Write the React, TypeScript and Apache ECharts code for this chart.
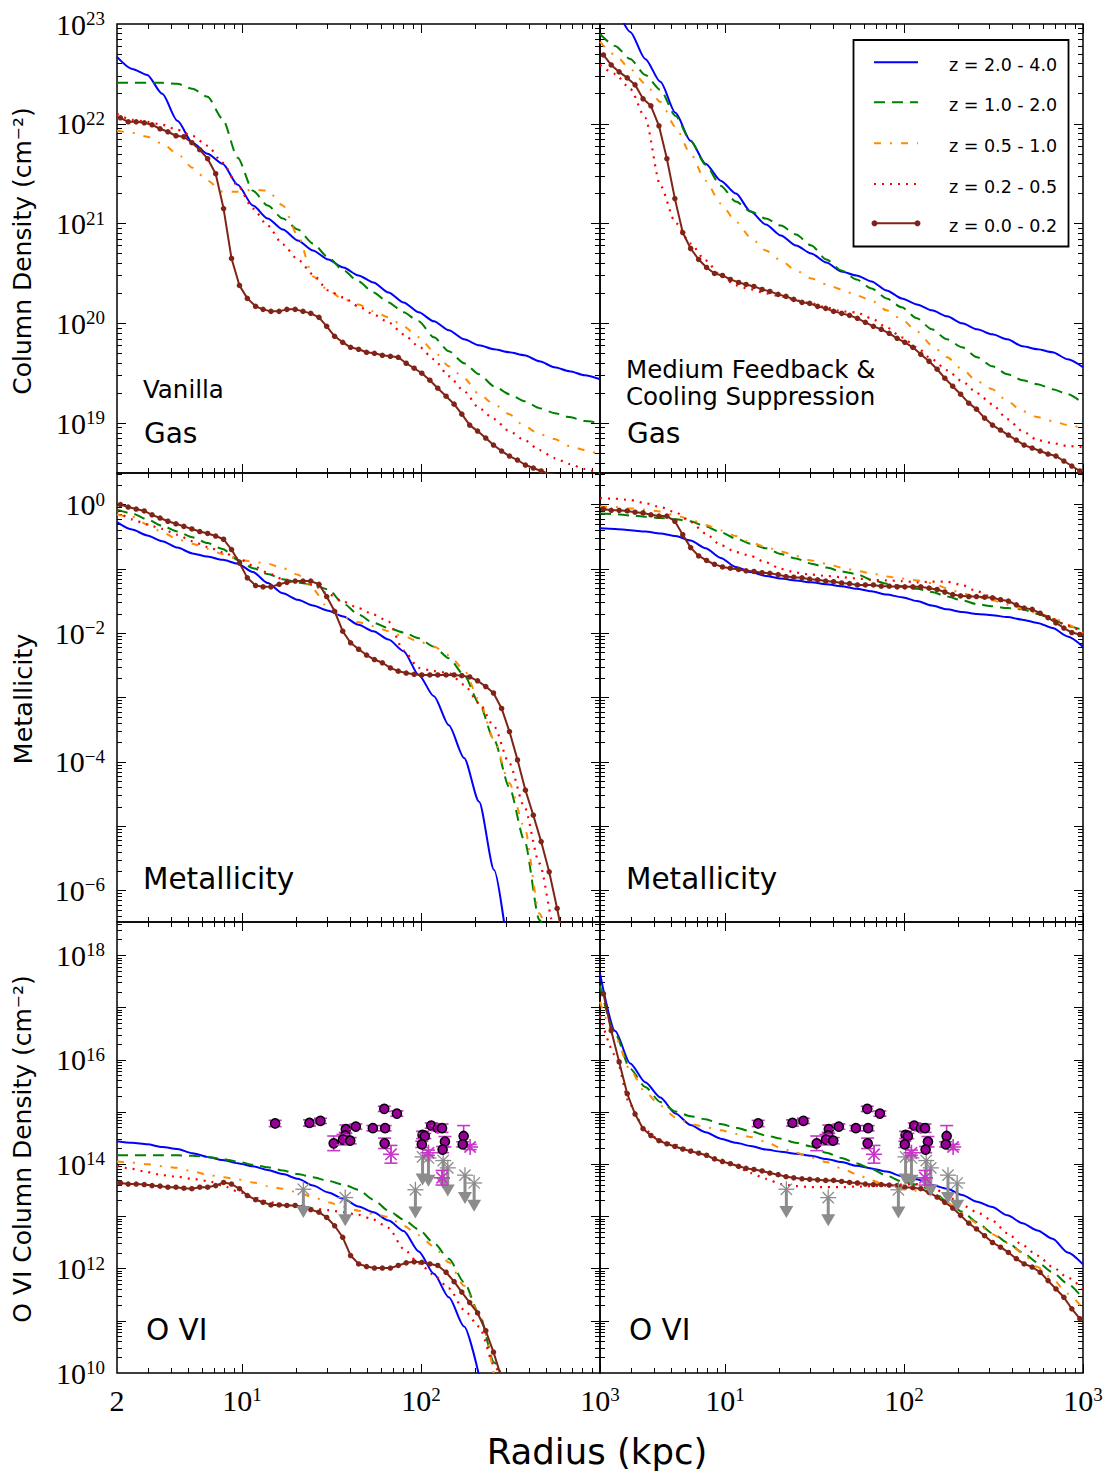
import React, { useEffect, useRef } from "react";
import * as echarts from "echarts";

// ---------------- DATA ----------------
// Radius sample points (kpc) for the un-marked curves
const radiusKpc = [2, 2.43, 2.95, 3.58, 4.35, 5.28, 6.41, 7.78, 9.45, 11.5, 13.9, 16.9, 20.5, 24.9, 30.3, 36.8, 44.7, 54.2, 65.8, 79.9, 97.1, 118, 143, 174, 211, 256, 311, 378, 459, 557, 676, 821, 1000];
// Radius bins (kpc) of the marked z = 0.0 - 0.2 curve
const brownRadiusKpc = [2.09, 2.31, 2.56, 2.84, 3.14, 3.48, 3.85, 4.27, 4.73, 5.24, 5.80, 6.42, 7.12, 7.88, 8.73, 9.67, 10.7, 11.9, 13.1, 14.5, 16.1, 17.8, 19.8, 21.9, 24.2, 26.9, 29.7, 32.9, 36.5, 40.4, 44.8, 49.6, 54.9, 60.8, 67.4, 74.6, 82.6, 91.5, 101, 112, 124, 138, 153, 169, 187, 207, 230, 254, 282, 312, 346, 383, 424, 469, 520, 576, 638, 706, 782, 866, 960];

const seriesNames = ["z = 2.0 - 4.0", "z = 1.0 - 2.0", "z = 0.5 - 1.0", "z = 0.2 - 0.5", "z = 0.0 - 0.2"];

// Gas column density, Vanilla (log10 cm^-2)
const gasVanZ24 = [22.67, 22.55, 22.49, 22.30, 22.03, 21.81, 21.70, 21.60, 21.39, 21.18, 21.05, 20.94, 20.83, 20.73, 20.64, 20.56, 20.48, 20.41, 20.31, 20.21, 20.11, 20.02, 19.93, 19.84, 19.78, 19.74, 19.71, 19.68, 19.62, 19.56, 19.52, 19.48, 19.44];
const gasVanZ12 = [22.41, 22.41, 22.41, 22.41, 22.40, 22.35, 22.27, 22.05, 21.66, 21.33, 21.18, 21.05, 20.94, 20.80, 20.66, 20.53, 20.42, 20.31, 20.21, 20.11, 20.02, 19.86, 19.72, 19.60, 19.49, 19.37, 19.29, 19.22, 19.15, 19.10, 19.06, 19.02, 19.00];
const gasVanZ051 = [21.93, 21.91, 21.87, 21.80, 21.70, 21.56, 21.43, 21.32, 21.32, 21.34, 21.33, 21.18, 20.88, 20.47, 20.33, 20.24, 20.19, 20.12, 20.06, 19.97, 19.86, 19.72, 19.57, 19.45, 19.29, 19.19, 19.09, 18.97, 18.89, 18.84, 18.77, 18.73, 18.68];
const gasVanZ0205 = [22.10, 22.04, 22.02, 21.99, 21.94, 21.88, 21.78, 21.61, 21.38, 21.15, 20.98, 20.79, 20.64, 20.49, 20.33, 20.26, 20.17, 20.09, 20.01, 19.89, 19.77, 19.64, 19.47, 19.32, 19.15, 19.04, 18.92, 18.83, 18.73, 18.65, 18.59, 18.54, 18.49];
const gasVanZ002 = [22.06, 22.02, 22.02, 22.01, 21.99, 21.95, 21.92, 21.88, 21.87, 21.81, 21.74, 21.65, 21.50, 21.15, 20.65, 20.38, 20.25, 20.17, 20.14, 20.12, 20.12, 20.14, 20.14, 20.12, 20.10, 20.06, 19.97, 19.87, 19.81, 19.76, 19.74, 19.71, 19.70, 19.68, 19.67, 19.66, 19.60, 19.55, 19.50, 19.43, 19.35, 19.27, 19.19, 19.09, 18.98, 18.92, 18.85, 18.78, 18.72, 18.67, 18.63, 18.58, 18.55, 18.52, 18.49, 18.48, 18.45, 18.42, 18.40, 18.37, 18.35];

// Gas column density, Medium Feedback & Cooling Suppression
const gasMedZ24 = [23.39, 23.14, 22.92, 22.65, 22.42, 22.11, 21.83, 21.60, 21.43, 21.30, 21.12, 20.99, 20.88, 20.78, 20.70, 20.61, 20.52, 20.48, 20.42, 20.33, 20.25, 20.19, 20.13, 20.07, 20.00, 19.94, 19.89, 19.84, 19.77, 19.74, 19.71, 19.64, 19.56];
const gasMedZ12 = [22.90, 22.78, 22.65, 22.49, 22.34, 22.08, 21.83, 21.59, 21.38, 21.22, 21.12, 21.05, 20.98, 20.89, 20.78, 20.64, 20.53, 20.44, 20.35, 20.25, 20.16, 20.05, 19.94, 19.84, 19.76, 19.66, 19.57, 19.49, 19.43, 19.39, 19.34, 19.29, 19.20];
const gasMedZ051 = [22.82, 22.69, 22.55, 22.40, 22.22, 21.97, 21.70, 21.43, 21.20, 21.02, 20.86, 20.73, 20.63, 20.53, 20.45, 20.39, 20.34, 20.28, 20.23, 20.13, 20.04, 19.92, 19.78, 19.66, 19.54, 19.42, 19.34, 19.22, 19.12, 19.06, 19.02, 18.98, 18.95];
const gasMedZ0205 = [22.59, 22.50, 22.35, 22.06, 21.38, 21.01, 20.80, 20.63, 20.48, 20.38, 20.34, 20.30, 20.27, 20.23, 20.20, 20.16, 20.12, 20.11, 20.05, 19.96, 19.86, 19.76, 19.64, 19.53, 19.42, 19.30, 19.19, 19.04, 18.92, 18.83, 18.80, 18.77, 18.76];
const gasMedZ002 = [22.69, 22.59, 22.52, 22.46, 22.39, 22.25, 22.18, 21.98, 21.65, 21.25, 20.91, 20.75, 20.64, 20.56, 20.50, 20.48, 20.44, 20.41, 20.39, 20.37, 20.34, 20.32, 20.29, 20.27, 20.24, 20.21, 20.20, 20.17, 20.15, 20.12, 20.10, 20.08, 20.05, 20.01, 19.97, 19.94, 19.90, 19.85, 19.81, 19.76, 19.69, 19.62, 19.54, 19.45, 19.37, 19.29, 19.20, 19.14, 19.05, 18.98, 18.93, 18.88, 18.83, 18.78, 18.75, 18.72, 18.69, 18.67, 18.62, 18.57, 18.52];

// Metallicity, Vanilla (log10)
const metVanZ24 = [-0.275, -0.39, -0.48, -0.57, -0.67, -0.76, -0.81, -0.86, -0.92, -1.05, -1.22, -1.38, -1.48, -1.57, -1.65, -1.74, -1.87, -1.97, -2.10, -2.28, -2.65, -2.98, -3.43, -3.94, -4.62, -5.68, -7.1];
const metVanZ12 = [-0.08, -0.14, -0.23, -0.33, -0.42, -0.51, -0.60, -0.69, -0.86, -0.99, -1.08, -1.16, -1.21, -1.25, -1.32, -1.54, -1.71, -1.84, -1.92, -1.99, -2.08, -2.21, -2.39, -2.65, -3.09, -3.66, -4.39, -5.22, -6.46, -7.2];
const metVanZ051 = [-0.16, -0.19, -0.31, -0.43, -0.54, -0.61, -0.69, -0.77, -0.85, -0.89, -0.92, -0.99, -1.09, -1.32, -1.61, -1.75, -1.83, -1.89, -1.97, -2.05, -2.13, -2.21, -2.34, -2.57, -3.04, -3.66, -4.33, -5.01, -6.36, -7.2];
const metVanZ0205 = [-0.10, -0.23, -0.31, -0.38, -0.47, -0.57, -0.66, -0.74, -0.83, -0.95, -1.06, -1.16, -1.20, -1.25, -1.39, -1.51, -1.61, -1.71, -1.82, -2.27, -2.54, -2.59, -2.62, -2.80, -3.09, -3.45, -4.02, -4.70, -5.58, -6.6, -7.3];
const metVanZ002 = [0.00, -0.04, -0.07, -0.10, -0.16, -0.21, -0.26, -0.30, -0.34, -0.38, -0.42, -0.45, -0.49, -0.54, -0.70, -0.91, -1.14, -1.26, -1.28, -1.28, -1.24, -1.21, -1.19, -1.19, -1.19, -1.24, -1.43, -1.66, -1.97, -2.15, -2.25, -2.34, -2.41, -2.46, -2.54, -2.59, -2.62, -2.64, -2.65, -2.65, -2.65, -2.65, -2.65, -2.66, -2.68, -2.74, -2.83, -2.93, -3.17, -3.53, -3.97, -4.44, -4.83, -5.24, -5.71, -6.28, -6.9];

// Metallicity, Medium Feedback & Cooling Suppression
const metMedZ24 = [-0.37, -0.38, -0.40, -0.42, -0.45, -0.49, -0.56, -0.68, -0.83, -0.97, -1.05, -1.11, -1.15, -1.18, -1.21, -1.24, -1.27, -1.31, -1.35, -1.40, -1.44, -1.50, -1.57, -1.63, -1.67, -1.70, -1.72, -1.75, -1.79, -1.84, -1.92, -2.05, -2.21];
const metMedZ12 = [-0.14, -0.15, -0.17, -0.19, -0.21, -0.23, -0.26, -0.34, -0.43, -0.53, -0.61, -0.68, -0.77, -0.84, -0.92, -0.98, -1.04, -1.08, -1.17, -1.23, -1.27, -1.31, -1.36, -1.43, -1.49, -1.55, -1.58, -1.61, -1.63, -1.70, -1.78, -1.89, -1.95];
const metMedZ051 = [-0.03, -0.04, -0.06, -0.08, -0.11, -0.17, -0.23, -0.32, -0.40, -0.49, -0.59, -0.66, -0.73, -0.80, -0.87, -0.92, -0.98, -1.03, -1.07, -1.12, -1.15, -1.18, -1.22, -1.30, -1.38, -1.44, -1.49, -1.56, -1.62, -1.69, -1.75, -1.87, -2.00];
const metMedZ0205 = [0.10, 0.09, 0.07, 0.02, -0.04, -0.12, -0.27, -0.45, -0.63, -0.74, -0.80, -0.90, -1.00, -1.06, -1.09, -1.11, -1.13, -1.15, -1.17, -1.18, -1.19, -1.21, -1.20, -1.20, -1.25, -1.35, -1.44, -1.52, -1.59, -1.68, -1.78, -1.88, -1.99];
const metMedZ002 = [-0.07, -0.09, -0.09, -0.10, -0.12, -0.13, -0.16, -0.18, -0.18, -0.26, -0.47, -0.67, -0.80, -0.87, -0.93, -0.97, -0.99, -1.01, -1.03, -1.04, -1.06, -1.07, -1.09, -1.12, -1.13, -1.14, -1.16, -1.17, -1.19, -1.20, -1.22, -1.23, -1.25, -1.25, -1.25, -1.27, -1.27, -1.28, -1.28, -1.28, -1.28, -1.30, -1.32, -1.36, -1.40, -1.42, -1.43, -1.43, -1.44, -1.45, -1.48, -1.50, -1.56, -1.61, -1.63, -1.69, -1.76, -1.84, -1.92, -1.99, -2.02];

// O VI column density, Vanilla (log10 cm^-2)
const oviVanZ24 = [14.44, 14.41, 14.38, 14.33, 14.29, 14.21, 14.14, 14.08, 14.02, 13.96, 13.89, 13.81, 13.72, 13.59, 13.46, 13.34, 13.19, 13.08, 12.92, 12.72, 12.33, 11.90, 11.45, 10.89, 9.95];
const oviVanZ12 = [14.17, 14.17, 14.17, 14.17, 14.17, 14.16, 14.14, 14.10, 14.05, 13.99, 13.94, 13.88, 13.81, 13.75, 13.68, 13.61, 13.51, 13.32, 13.11, 12.94, 12.75, 12.49, 12.19, 11.74, 11.14, 10.20, 9.57];
const oviVanZ051 = [14.05, 14.03, 14.00, 13.96, 13.93, 13.86, 13.80, 13.75, 13.71, 13.65, 13.58, 13.53, 13.46, 13.37, 13.27, 13.18, 13.11, 13.05, 12.99, 12.82, 12.64, 12.42, 12.12, 11.67, 11.13, 9.95];
const oviVanZ0205 = [13.97, 13.91, 13.85, 13.79, 13.76, 13.72, 13.68, 13.59, 13.48, 13.37, 13.28, 13.23, 13.19, 13.15, 13.12, 13.08, 13.03, 12.94, 12.78, 12.38, 12.10, 11.88, 11.62, 11.21, 10.89, 10.15, 9.37];
const oviVanZ002 = [13.64, 13.62, 13.62, 13.61, 13.59, 13.58, 13.56, 13.56, 13.54, 13.53, 13.56, 13.56, 13.59, 13.65, 13.62, 13.53, 13.40, 13.32, 13.27, 13.22, 13.22, 13.21, 13.21, 13.18, 13.13, 13.08, 12.98, 12.82, 12.60, 12.25, 12.09, 12.04, 12.01, 12.01, 12.01, 12.06, 12.11, 12.13, 12.12, 12.09, 12.06, 11.93, 11.75, 11.55, 11.35, 11.15, 10.81, 10.40, 9.9];

// O VI column density, Medium Feedback & Cooling Suppression
const oviMedZ24 = [17.65, 16.55, 15.93, 15.57, 15.28, 14.97, 14.75, 14.61, 14.49, 14.41, 14.35, 14.28, 14.24, 14.20, 14.16, 14.10, 14.04, 13.97, 13.92, 13.86, 13.77, 13.71, 13.60, 13.53, 13.41, 13.28, 13.18, 13.02, 12.87, 12.73, 12.57, 12.31, 12.08];
const oviMedZ12 = [17.42, 16.50, 15.83, 15.48, 15.19, 15.01, 14.92, 14.86, 14.77, 14.70, 14.63, 14.55, 14.49, 14.41, 14.34, 14.22, 14.12, 14.02, 13.91, 13.78, 13.67, 13.61, 13.50, 13.28, 13.09, 12.89, 12.68, 12.50, 12.31, 12.12, 11.93, 11.71, 11.42];
const oviMedZ051 = [17.11, 16.44, 15.80, 15.38, 15.12, 14.90, 14.77, 14.71, 14.65, 14.58, 14.52, 14.43, 14.31, 14.22, 14.13, 14.04, 13.92, 13.81, 13.69, 13.59, 13.54, 13.49, 13.46, 13.27, 13.06, 12.87, 12.66, 12.49, 12.30, 12.03, 11.80, 11.52, 11.23];
const oviMedZ0205 = [16.85, 16.09, 15.13, 14.65, 14.45, 14.37, 14.28, 14.20, 14.09, 13.96, 13.83, 13.72, 13.62, 13.58, 13.56, 13.56, 13.56, 13.57, 13.58, 13.59, 13.61, 13.62, 13.58, 13.39, 13.22, 13.08, 12.92, 12.68, 12.45, 12.25, 12.03, 11.83, 11.61];
const oviMedZ002 = [17.27, 16.56, 15.96, 15.35, 14.96, 14.68, 14.55, 14.45, 14.39, 14.34, 14.29, 14.25, 14.21, 14.17, 14.10, 14.05, 14.01, 13.96, 13.92, 13.90, 13.87, 13.83, 13.80, 13.76, 13.74, 13.72, 13.71, 13.70, 13.69, 13.69, 13.67, 13.65, 13.64, 13.62, 13.61, 13.61, 13.60, 13.59, 13.56, 13.55, 13.53, 13.46, 13.37, 13.27, 13.16, 13.02, 12.87, 12.76, 12.63, 12.50, 12.41, 12.31, 12.19, 12.09, 12.03, 11.93, 11.77, 11.61, 11.45, 11.23, 11.04];

// Observed O VI: detections (purple circles) r [kpc], log N, error [dex]
const obsDetR = [15.3, 23.8, 27.4, 32.5, 38.0, 37.7, 36.6, 40.2, 43.2, 53.8, 63.0, 62.3, 73.3, 62.6, 102, 105, 101, 114, 124, 131, 136, 132, 173, 171];
const obsDetLogN = [14.78, 14.79, 14.83, 14.40, 14.67, 14.55, 14.47, 14.45, 14.72, 14.69, 14.69, 15.06, 14.97, 14.40, 14.56, 14.54, 14.38, 14.74, 14.69, 14.69, 14.43, 14.28, 14.54, 14.38];
const obsDetErr = [0.06, 0.06, 0.05, 0.14, 0.08, 0.06, 0.10, 0.06, 0.05, 0.05, 0.05, 0.05, 0.05, 0.10, 0.07, 0.05, 0.06, 0.05, 0.05, 0.08, 0.10, 0.06, 0.20, 0.05];
// Observed O VI: detections (magenta asterisks)
const obsStarR = [67.9, 110, 131, 188];
const obsStarLogN = [14.19, 14.22, 13.74, 14.33];
const obsStarErr = [0.17, 0.05, 0.14, 0.05];
// Observed O VI: upper limits (grey asterisks with arrows)
const obsLimR = [22.0, 37.7, 93, 102, 110, 133, 141, 176, 198];
const obsLimLogN = [13.52, 13.36, 13.51, 14.14, 14.12, 14.07, 13.93, 13.79, 13.64];

// Axis ticks / tick labels
const xMajorTicks = [10, 100, 1000];
const xMinorTicks = [3, 4, 5, 6, 7, 8, 9, 20, 30, 40, 50, 60, 70, 80, 90, 200, 300, 400, 500, 600, 700, 800, 900];
const xTickLabelsLeft = [2, 10, 100, 1000];
const xTickLabelsRight = [10, 100, 1000];
const gasTickExponents = [19, 20, 21, 22, 23];
const metalTickExponents = [0, -2, -4, -6];
const oviTickExponents = [10, 12, 14, 16, 18];

// ---------------- LAYOUT / STYLE ----------------
const PANEL_LEFTS = [117, 600];
const PANEL_WIDTH = 483;
const ROW_TOPS = [24, 473, 922];
const ROW_HEIGHTS = [449, 449, 451];
const ROW_LOG_RANGES = [[18.5, 23], [-6.49, 0.49], [10, 18.64]];
const ROW_LABELS = [gasTickExponents, metalTickExponents, oviTickExponents];

const panelCurves = [
  [gasVanZ24, gasVanZ12, gasVanZ051, gasVanZ0205, gasVanZ002],
  [gasMedZ24, gasMedZ12, gasMedZ051, gasMedZ0205, gasMedZ002],
  [metVanZ24, metVanZ12, metVanZ051, metVanZ0205, metVanZ002],
  [metMedZ24, metMedZ12, metMedZ051, metMedZ0205, metMedZ002],
  [oviVanZ24, oviVanZ12, oviVanZ051, oviVanZ0205, oviVanZ002],
  [oviMedZ24, oviMedZ12, oviMedZ051, oviMedZ0205, oviMedZ002],
];

const BROWN = "#7f2417";
const lineStyles: any[] = [
  { color: "#0000ff", width: 2, type: "solid" },
  { color: "#008000", width: 2, type: [11, 7] },
  { color: "#ff8c00", width: 2, type: [7, 9, 2, 9] },
  { color: "#ff0000", width: 2.2, type: [2, 6] },
  { color: BROWN, width: 2, type: "solid" },
];

const SERIF = "Liberation Serif";
const SANS = "DejaVu Sans";
const MAGENTA = "#c837c8";
const GRAY = "#8c8c8c";

const rich = {
  b: { fontFamily: SERIF, fontSize: 30, lineHeight: 30, padding: [5, 0, 5, 0], color: "#000" },
  s: { fontFamily: SERIF, fontSize: 19, lineHeight: 19, verticalAlign: "top", color: "#000" },
};

function fmtLabel(v: number) {
  if (Math.abs(v - 2) < 1e-3) return "{b|2}";
  const e = Math.round(Math.log10(v));
  const s = e < 0 ? "\u2212" + Math.abs(e) : String(e);
  return "{b|10}{s|" + s + "}";
}

function inside(vals: number[], mn: number, mx: number) {
  return vals.map((v) => Math.min(Math.max(v, mn * 1.000001), mx * 0.999999));
}

function decadeTicks(lo: number, hi: number) {
  const major: number[] = [];
  const minor: number[] = [];
  for (let k = Math.floor(lo); k <= Math.ceil(hi); k++) {
    if (k > lo && k < hi) major.push(Math.pow(10, k));
    for (let m = 2; m <= 9; m++) {
      const lv = k + Math.log10(m);
      if (lv > lo && lv < hi) minor.push(m * Math.pow(10, k));
    }
  }
  return { major, minor };
}

function asterisk(c: number[], color: string, r: number, lw: number) {
  const out: any[] = [];
  for (let a = 0; a < 4; a++) {
    const ang = (a * Math.PI) / 4;
    const dx = Math.cos(ang) * r;
    const dy = Math.sin(ang) * r;
    out.push({
      type: "line",
      shape: { x1: c[0] - dx, y1: c[1] - dy, x2: c[0] + dx, y2: c[1] + dy },
      style: { stroke: color, lineWidth: lw },
    });
  }
  return out;
}

function buildOption() {
  const grids: any[] = [];
  const xAxes: any[] = [];
  const yAxes: any[] = [];
  const series: any[] = [];
  const tickStyle = { color: "#000", width: 1 };

  for (let p = 0; p < 6; p++) {
    const row = Math.floor(p / 2);
    const col = p % 2;
    const [lo, hi] = ROW_LOG_RANGES[row];
    const yMin = Math.pow(10, lo);
    const yMax = Math.pow(10, hi);
    grids.push({
      left: PANEL_LEFTS[col],
      top: ROW_TOPS[row],
      width: PANEL_WIDTH,
      height: ROW_HEIGHTS[row],
      show: true,
      borderColor: "#000",
      borderWidth: 1.5,
      backgroundColor: "rgba(0,0,0,0)",
      containLabel: false,
      outerBoundsMode: "none",
    });

    const xBase = {
      type: "log",
      logBase: 10,
      gridIndex: p,
      min: 2,
      max: 1000,
      axisLine: { show: false },
      splitLine: { show: false },
      minorTick: { show: false },
      minorSplitLine: { show: false },
    };
    const xLab = col === 0 ? xTickLabelsLeft : xTickLabelsRight;
    const xLabelCfg =
      row === 2
        ? { show: true, customValues: inside(xLab, 2, 1000), formatter: fmtLabel, rich, margin: 12 }
        : { show: false };
    xAxes.push(
      { ...xBase, position: "bottom", axisTick: { show: true, inside: true, length: 9, customValues: xMajorTicks, lineStyle: tickStyle }, axisLabel: xLabelCfg },
      { ...xBase, position: "bottom", axisTick: { show: true, inside: true, length: 5, customValues: xMinorTicks, lineStyle: tickStyle }, axisLabel: { show: false } },
      { ...xBase, position: "top", axisTick: { show: true, inside: true, length: 9, customValues: xMajorTicks, lineStyle: tickStyle }, axisLabel: { show: false } },
      { ...xBase, position: "top", axisTick: { show: true, inside: true, length: 5, customValues: xMinorTicks, lineStyle: tickStyle }, axisLabel: { show: false } }
    );

    const { major, minor } = decadeTicks(lo, hi);
    const yBase = {
      type: "log",
      logBase: 10,
      gridIndex: p,
      min: yMin,
      max: yMax,
      axisLine: { show: false },
      splitLine: { show: false },
      minorTick: { show: false },
      minorSplitLine: { show: false },
    };
    const yLabelVals = inside(ROW_LABELS[row].map((e) => Math.pow(10, e)), yMin, yMax);
    const yLabelCfg =
      col === 0
        ? { show: true, customValues: yLabelVals, formatter: fmtLabel, rich, margin: 12 }
        : { show: false };
    yAxes.push(
      { ...yBase, position: "left", axisTick: { show: true, inside: true, length: 9, customValues: major, lineStyle: tickStyle }, axisLabel: yLabelCfg },
      { ...yBase, position: "left", axisTick: { show: true, inside: true, length: 5, customValues: minor, lineStyle: tickStyle }, axisLabel: { show: false } },
      { ...yBase, position: "right", axisTick: { show: true, inside: true, length: 9, customValues: major, lineStyle: tickStyle }, axisLabel: { show: false } },
      { ...yBase, position: "right", axisTick: { show: true, inside: true, length: 5, customValues: minor, lineStyle: tickStyle }, axisLabel: { show: false } }
    );

    panelCurves[p].forEach((curve, s) => {
      const rr = s === 4 ? brownRadiusKpc : radiusKpc;
      series.push({
        type: "line",
        name: seriesNames[s],
        xAxisIndex: p * 4,
        yAxisIndex: p * 4,
        data: curve.map((v, j) => [rr[j], Math.pow(10, v)]),
        showSymbol: s === 4,
        symbol: s === 4 ? "circle" : "none",
        symbolSize: 5.5,
        itemStyle: { color: lineStyles[s].color },
        lineStyle: { ...lineStyles[s] },
        smooth: s === 4 ? false : 0.25,
        smoothMonotone: "x",
        silent: true,
        clip: true,
        z: 2,
      });
    });

    if (row === 2) {
      // upper limits
      series.push({
        type: "custom",
        xAxisIndex: p * 4,
        yAxisIndex: p * 4,
        silent: true,
        clip: true,
        z: 5,
        data: obsLimR.map((r, i) => [r, Math.pow(10, obsLimLogN[i]), Math.pow(10, obsLimLogN[i] - 0.55)]),
        renderItem: (params: any, api: any) => {
          const c = api.coord([api.value(0), api.value(1)]);
          const t = api.coord([api.value(0), api.value(2)]);
          return {
            type: "group",
            children: [
              { type: "line", shape: { x1: c[0], y1: c[1], x2: c[0], y2: t[1] - 11 }, style: { stroke: GRAY, lineWidth: 3 } },
              { type: "polygon", shape: { points: [[c[0] - 7, t[1] - 12], [c[0] + 7, t[1] - 12], [c[0], t[1]]] }, style: { fill: GRAY } },
              ...asterisk(c, GRAY, 8, 1.3),
            ],
          };
        },
      });
      // magenta asterisks with error bars
      series.push({
        type: "custom",
        xAxisIndex: p * 4,
        yAxisIndex: p * 4,
        silent: true,
        clip: true,
        z: 6,
        data: obsStarR.map((r, i) => [r, Math.pow(10, obsStarLogN[i]), Math.pow(10, obsStarLogN[i] - obsStarErr[i]), Math.pow(10, obsStarLogN[i] + obsStarErr[i])]),
        renderItem: (params: any, api: any) => {
          const c = api.coord([api.value(0), api.value(1)]);
          const l = api.coord([api.value(0), api.value(2)]);
          const h = api.coord([api.value(0), api.value(3)]);
          const st = { stroke: MAGENTA, lineWidth: 1.6 };
          return {
            type: "group",
            children: [
              { type: "line", shape: { x1: c[0], y1: l[1], x2: c[0], y2: h[1] }, style: st },
              { type: "line", shape: { x1: c[0] - 6.5, y1: l[1], x2: c[0] + 6.5, y2: l[1] }, style: st },
              { type: "line", shape: { x1: c[0] - 6.5, y1: h[1], x2: c[0] + 6.5, y2: h[1] }, style: st },
              ...asterisk(c, MAGENTA, 8, 1.6),
            ],
          };
        },
      });
      // purple circles with error bars
      series.push({
        type: "custom",
        xAxisIndex: p * 4,
        yAxisIndex: p * 4,
        silent: true,
        clip: true,
        z: 7,
        data: obsDetR.map((r, i) => [r, Math.pow(10, obsDetLogN[i]), Math.pow(10, obsDetLogN[i] - obsDetErr[i]), Math.pow(10, obsDetLogN[i] + obsDetErr[i])]),
        renderItem: (params: any, api: any) => {
          const c = api.coord([api.value(0), api.value(1)]);
          const l = api.coord([api.value(0), api.value(2)]);
          const h = api.coord([api.value(0), api.value(3)]);
          const st = { stroke: MAGENTA, lineWidth: 1.6 };
          return {
            type: "group",
            children: [
              { type: "line", shape: { x1: c[0], y1: l[1], x2: c[0], y2: h[1] }, style: st },
              { type: "line", shape: { x1: c[0] - 6.5, y1: l[1], x2: c[0] + 6.5, y2: l[1] }, style: st },
              { type: "line", shape: { x1: c[0] - 6.5, y1: h[1], x2: c[0] + 6.5, y2: h[1] }, style: st },
              { type: "circle", shape: { cx: c[0], cy: c[1], r: 4.6 }, style: { fill: "#990099", stroke: "#000", lineWidth: 1.5 } },
            ],
          };
        },
      });
    }
  }

  const text = (t: string, x: number, y: number, size: number, extra: any = {}) => ({
    type: "text",
    x,
    y,
    z: 50,
    ...extra,
    style: {
      text: t,
      font: size + 'px "' + SANS + '"',
      fill: "#000",
      align: extra.align || "left",
      verticalAlign: "middle",
      textAlign: extra.align || "left",
      textVerticalAlign: "middle",
    },
  });

  const graphics: any[] = [];
  // panel annotations
  graphics.push(text("Vanilla", 143, 389.5, 24.5));
  graphics.push(text("Gas", 144, 433, 28));
  graphics.push(text("Medium Feedback &", 626, 369.5, 24.5));
  graphics.push(text("Cooling Suppression", 626, 396.5, 24.5));
  graphics.push(text("Gas", 627, 433, 28));
  graphics.push(text("Metallicity", 143, 879, 29.5));
  graphics.push(text("Metallicity", 626, 879, 29.5));
  graphics.push(text("O VI", 146, 1330, 29.5));
  graphics.push(text("O VI", 629, 1330, 29.5));
  // axis titles
  graphics.push(text("Radius (kpc)", 597, 1451, 35.5, { align: "center" }));
  graphics.push(text("Column Density (cm\u207B\u00B2)", 22.5, 251, 25, { align: "center", rotation: Math.PI / 2 }));
  graphics.push(text("Metallicity", 22.5, 699, 25.5, { align: "center", rotation: Math.PI / 2 }));
  graphics.push(text("O VI Column Density (cm\u207B\u00B2)", 22.5, 1149, 25, { align: "center", rotation: Math.PI / 2 }));

  // legend
  graphics.push({
    type: "rect",
    z: 60,
    shape: { x: 853.5, y: 40, width: 215, height: 206.5 },
    style: { fill: "#fff", stroke: "#000", lineWidth: 1.8 },
  });
  const legendY = [62.3, 102.3, 143.3, 184, 223.3];
  seriesNames.forEach((name, i) => {
    const y = legendY[i];
    const ls = lineStyles[i];
    graphics.push({
      type: "line",
      z: 61,
      shape: { x1: 874, y1: y, x2: 918, y2: y },
      style: { stroke: ls.color, lineWidth: ls.width, lineDash: Array.isArray(ls.type) ? ls.type : null },
    });
    if (i === 4) {
      graphics.push({ type: "circle", z: 62, shape: { cx: 874.5, cy: y, r: 3 }, style: { fill: BROWN } });
      graphics.push({ type: "circle", z: 62, shape: { cx: 917.5, cy: y, r: 3 }, style: { fill: BROWN } });
    }
    const t: any = text(name, 949, y + 2.5, 17.5);
    t.z = 62;
    graphics.push(t);
  });

  return {
    animation: false,
    backgroundColor: "#fff",
    grid: grids,
    xAxis: xAxes,
    yAxis: yAxes,
    series,
    graphic: { elements: graphics },
  };
}

export default function App() {
  const ref = useRef<HTMLDivElement>(null);
  useEffect(() => {
    if (!ref.current) return;
    const chart = echarts.init(ref.current, null, { renderer: "svg" });
    chart.setOption(buildOption() as any);
    return () => chart.dispose();
  }, []);
  return (
    <div
      ref={ref}
      style={{ position: "absolute", left: 0, top: 0, width: 1104, height: 1472, background: "#fff" }}
    />
  );
}
